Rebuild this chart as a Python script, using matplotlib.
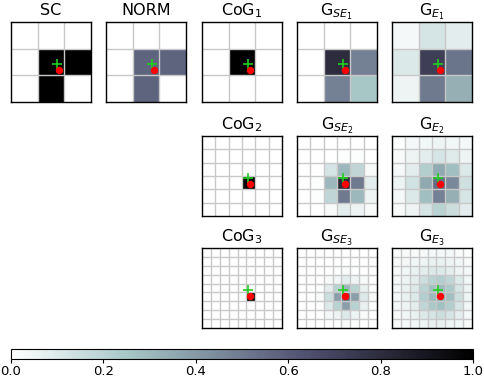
import numpy as np
import matplotlib
matplotlib.use("Agg")
import matplotlib.pyplot as plt

# ---- data ----
titles_row1 = ["SC", "NORM", r"CoG$_1$", r"G$_{SE_1}$", r"G$_{E_1}$"]
titles_row2 = [r"CoG$_2$", r"G$_{SE_2}$", r"G$_{E_2}$"]
titles_row3 = [r"CoG$_3$", r"G$_{SE_3}$", r"G$_{E_3}$"]

sc = [[0, 0, 0],
      [0, 1, 1],
      [0, 1, 0]]
norm = [[0, 0, 0],
        [0, 0.577, 0.577],
        [0, 0.577, 0]]
cog1 = [[0, 0, 0],
        [0, 1, 0],
        [0, 0, 0]]
gse1 = [[0, 0, 0],
        [0, 0.80, 0.48],
        [0, 0.48, 0.25]]
ge1 = [[0.03, 0.12, 0.08],
       [0.10, 0.72, 0.52],
       [0.05, 0.50, 0.33]]

cog2 = np.zeros((6, 6))
cog2[3, 3] = 1
gse2 = [[0, 0, 0, 0, 0, 0],
        [0, 0, 0, 0.01, 0.01, 0],
        [0, 0, 0.12, 0.30, 0.18, 0.02],
        [0, 0.01, 0.30, 0.80, 0.50, 0.08],
        [0, 0.01, 0.18, 0.50, 0.30, 0.05],
        [0, 0, 0.02, 0.08, 0.05, 0.02]]
ge2 = [[0.01, 0.03, 0.04, 0.05, 0.04, 0.03],
       [0.02, 0.05, 0.08, 0.12, 0.09, 0.05],
       [0.03, 0.08, 0.22, 0.35, 0.28, 0.10],
       [0.05, 0.13, 0.35, 0.55, 0.45, 0.14],
       [0.03, 0.10, 0.28, 0.48, 0.33, 0.12],
       [0.02, 0.05, 0.12, 0.20, 0.15, 0.08]]

cog3 = np.zeros((9, 9))
cog3[5, 5] = 1
gse3 = [[0, 0, 0, 0, 0, 0, 0, 0, 0],
        [0, 0, 0, 0, 0, 0, 0, 0, 0],
        [0, 0, 0, 0, 0.01, 0.02, 0.01, 0, 0],
        [0, 0, 0, 0.02, 0.04, 0.08, 0.05, 0.02, 0],
        [0, 0, 0.01, 0.08, 0.20, 0.30, 0.20, 0.06, 0.01],
        [0, 0, 0.02, 0.15, 0.38, 0.55, 0.38, 0.10, 0.02],
        [0, 0, 0.01, 0.10, 0.20, 0.38, 0.20, 0.06, 0.01],
        [0, 0, 0, 0.03, 0.05, 0.10, 0.05, 0.02, 0],
        [0, 0, 0, 0, 0.01, 0.02, 0.01, 0, 0]]
ge3 = [[0.01, 0.02, 0.02, 0.03, 0.03, 0.03, 0.03, 0.02, 0.01],
       [0.02, 0.03, 0.04, 0.05, 0.06, 0.06, 0.05, 0.04, 0.02],
       [0.02, 0.04, 0.06, 0.08, 0.10, 0.10, 0.08, 0.05, 0.03],
       [0.03, 0.05, 0.08, 0.15, 0.20, 0.22, 0.18, 0.10, 0.04],
       [0.03, 0.06, 0.10, 0.20, 0.27, 0.29, 0.24, 0.12, 0.05],
       [0.03, 0.06, 0.10, 0.22, 0.29, 0.33, 0.28, 0.15, 0.05],
       [0.03, 0.05, 0.08, 0.18, 0.24, 0.27, 0.22, 0.12, 0.04],
       [0.02, 0.04, 0.06, 0.10, 0.12, 0.15, 0.12, 0.08, 0.03],
       [0.02, 0.03, 0.04, 0.05, 0.06, 0.06, 0.05, 0.04, 0.02]]

# marker positions as fraction of the panel (x right, y down)
green_frac = (0.572, 0.52)
red_frac = (0.605, 0.605)

# ---- layout ----
fig = plt.figure(figsize=(4.84, 3.81), dpi=100)
W, H = 484, 381
col_left = [11, 106, 202, 297, 392]
row_top = [22, 136, 248]
size = 80

cmap = "bone_r"


def panel(left, top, data, title):
    ax = fig.add_axes([left / W, (H - top - size) / H, size / W, size / H])
    data = np.asarray(data, dtype=float)
    n = data.shape[0]
    im = ax.imshow(data, cmap=cmap, vmin=0, vmax=1, interpolation="nearest")
    for k in range(1, n):
        ax.axhline(k - 0.5, color="#c8c8c8", lw=1)
        ax.axvline(k - 0.5, color="#c8c8c8", lw=1)
    ax.plot(green_frac[0] * n - 0.5, green_frac[1] * n - 0.5, "+",
            color="#22cc22", ms=6.5, mew=1.2)
    ax.plot(red_frac[0] * n - 0.5, red_frac[1] * n - 0.5, "o",
            color="red", ms=4.3)
    ax.set_xlim(-0.5, n - 0.5)
    ax.set_ylim(n - 0.5, -0.5)
    ax.set_xticks([])
    ax.set_yticks([])
    for s in ax.spines.values():
        s.set_linewidth(1.0)
    ax.set_title(title, fontsize=11.5, pad=5)
    return im


row1 = [sc, norm, cog1, gse1, ge1]
for i in range(5):
    im = panel(col_left[i], row_top[0], row1[i], titles_row1[i])

row2 = [cog2, gse2, ge2]
for i in range(3):
    panel(col_left[i + 2], row_top[1], row2[i], titles_row2[i])

row3 = [cog3, gse3, ge3]
for i in range(3):
    panel(col_left[i + 2], row_top[2], row3[i], titles_row3[i])

cax = fig.add_axes([11 / W, (H - 359) / H, 462 / W, 10 / H])
cb = fig.colorbar(im, cax=cax, orientation="horizontal")
cb.set_ticks([0.0, 0.2, 0.4, 0.6, 0.8, 1.0])
cb.ax.tick_params(labelsize=9.5, length=3, pad=1.5)

fig.savefig("out.png", dpi=100)
